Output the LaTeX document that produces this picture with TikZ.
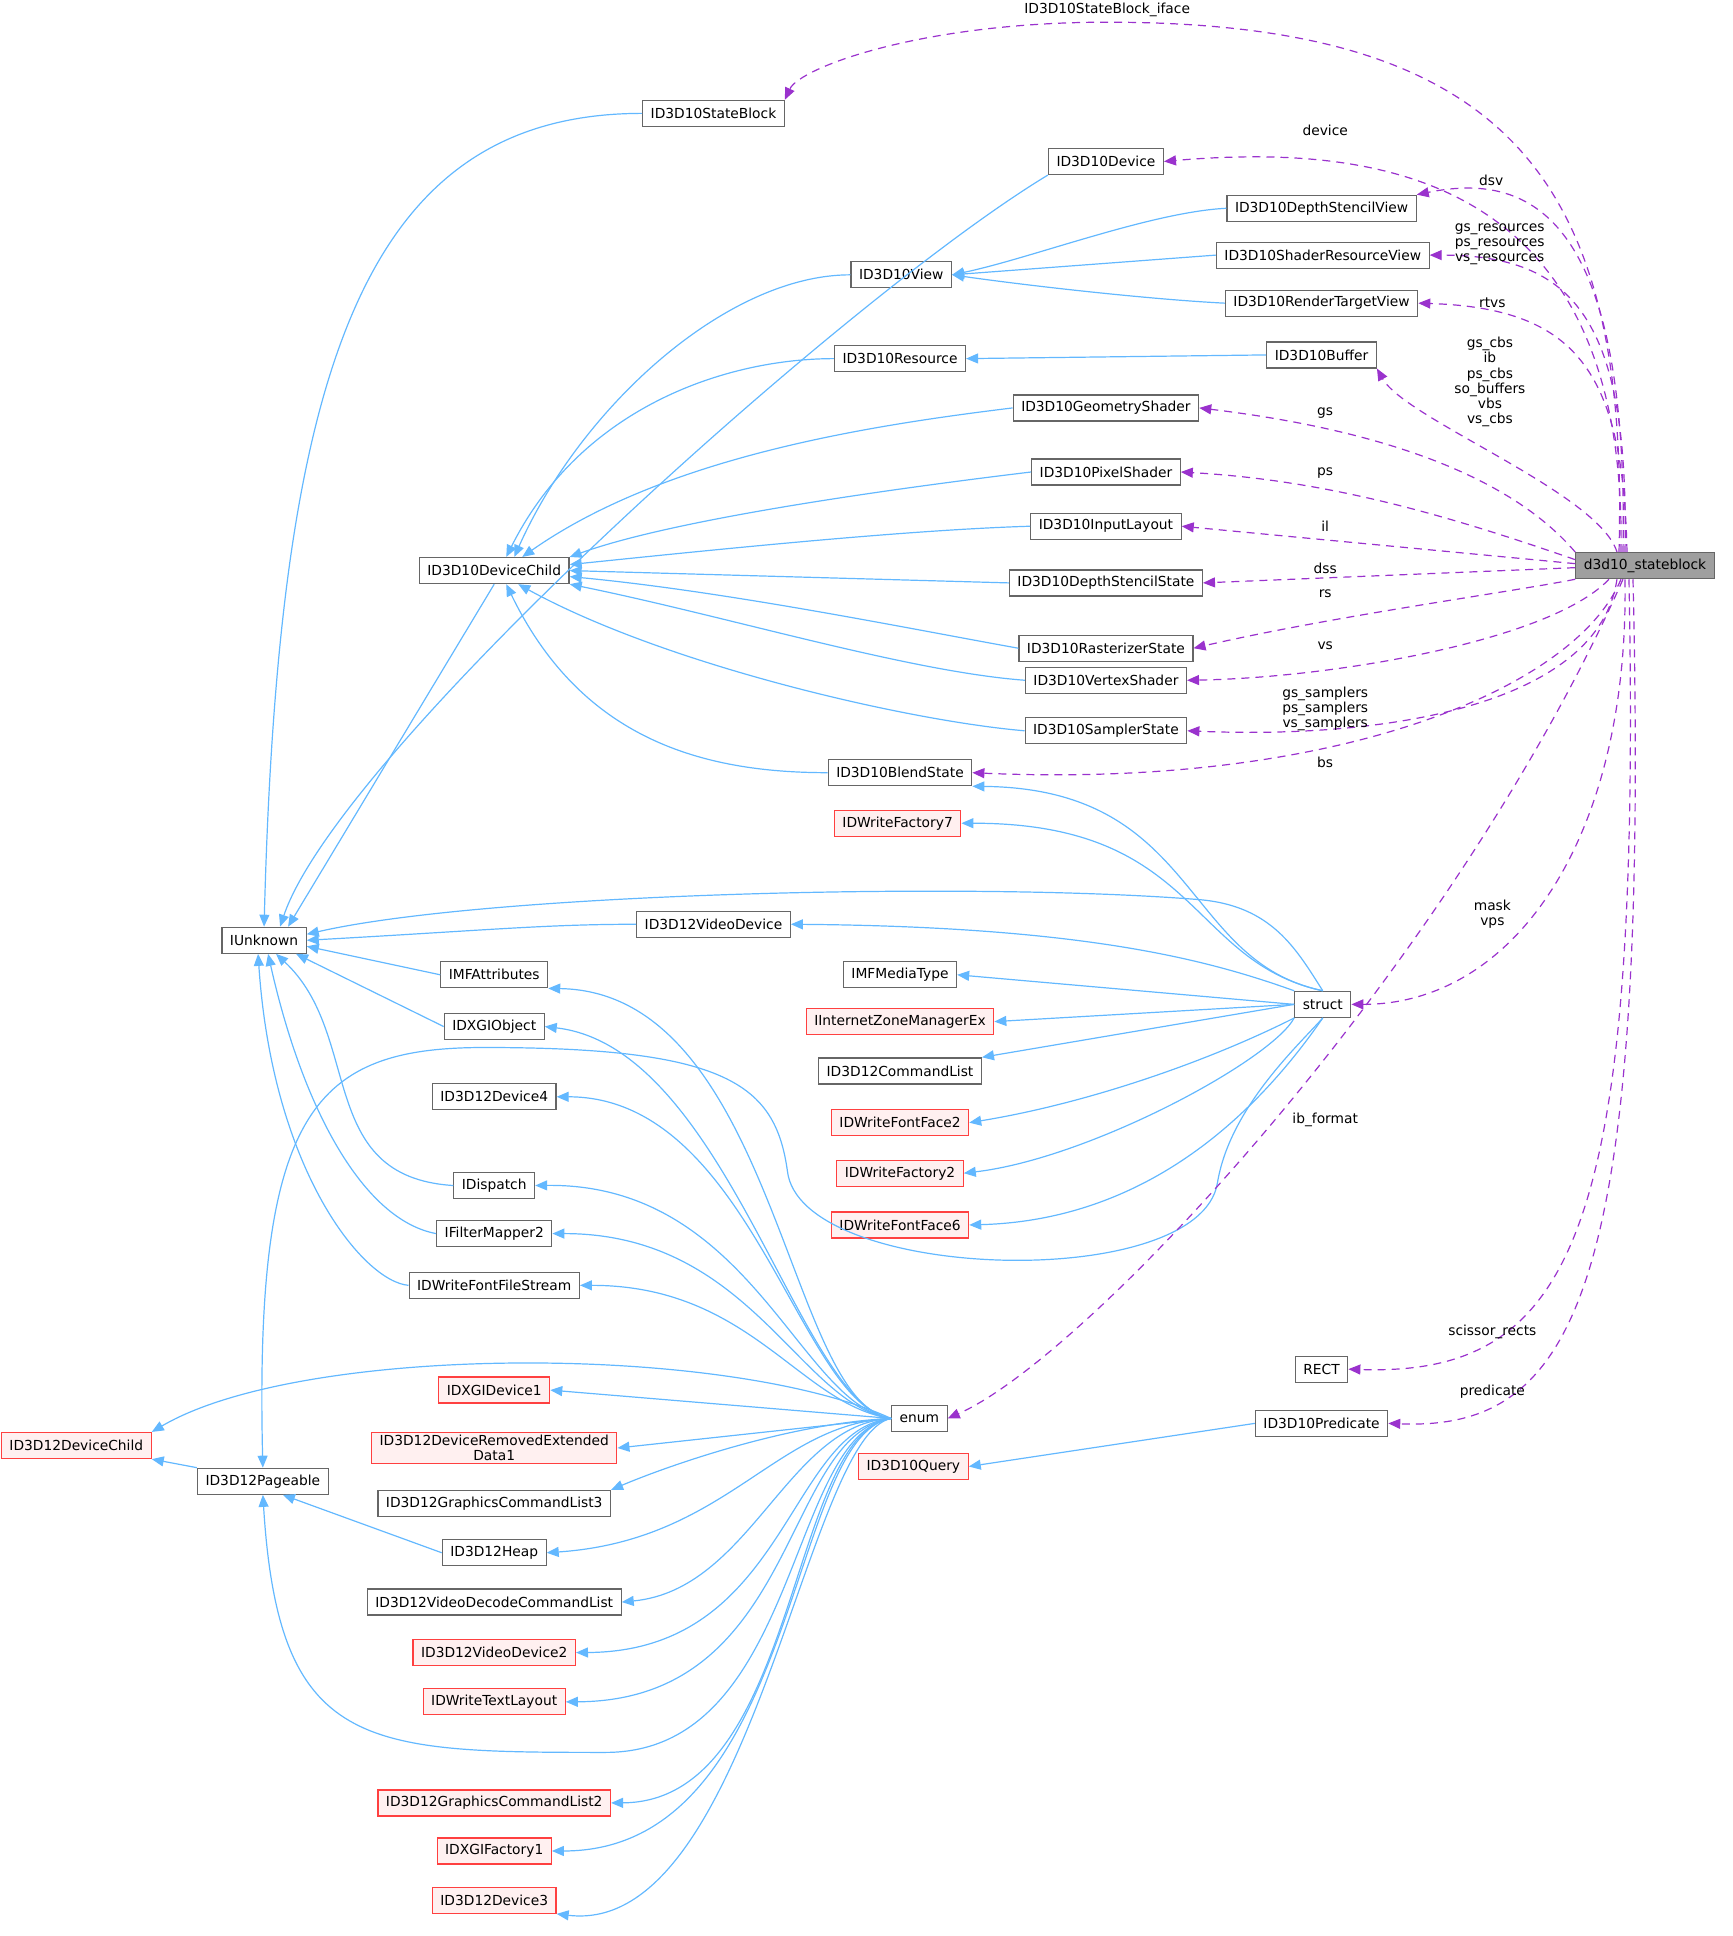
\documentclass[tikz,border=0pt]{standalone}
\usepackage{fontspec}
\setmainfont{DejaVu Sans}
\usetikzlibrary{arrows.meta}
\definecolor{eb}{HTML}{63B8FF}
\definecolor{ep}{HTML}{9A32CD}
\definecolor{bd}{HTML}{666666}
\definecolor{rf}{HTML}{FFF0F0}
\definecolor{rd}{HTML}{FF4040}
\begin{document}
\begin{tikzpicture}[x=0.6055pt,y=-0.616pt,
  n/.style={draw=bd,fill=white,line width=0.6pt,minimum height=13pt,inner xsep=4pt,inner ysep=1pt,font=\fontsize{6.9pt}{7.8pt}\selectfont,align=center},
  r/.style={n,draw=rd,fill=rf},
  be/.style={draw=eb,line width=0.6pt,{Triangle[length=6pt,width=5pt]}-},
  pe/.style={draw=ep,line width=0.6pt,dash pattern=on 4pt off 3pt,-{Triangle[length=6pt,width=5pt]}},
  lb/.style={font=\fontsize{6.9pt}{7.6pt}\selectfont,align=center,inner sep=0pt}]
\useasboundingbox (0,0) rectangle (1430,1571);
% nodes
\node[n,fill=gray!75] (sb) at (1358,459) {d3d10\_stateblock};
\node[n] (stb) at (589,92) {ID3D10StateBlock};
\node[n] (dev) at (913,131) {ID3D10Device};
\node[n] (dsv) at (1091,169) {ID3D10DepthStencilView};
\node[n] (srv) at (1092,207) {ID3D10ShaderResourceView};
\node[n] (view) at (744,223) {ID3D10View};
\node[n] (rtv) at (1091,246) {ID3D10RenderTargetView};
\node[n] (buf) at (1091,288) {ID3D10Buffer};
\node[n] (res) at (743,291) {ID3D10Resource};
\node[n] (gs) at (913,331) {ID3D10GeometryShader};
\node[n] (ps) at (913,383) {ID3D10PixelShader};
\node[n] (il) at (913,427) {ID3D10InputLayout};
\node[n] (dc) at (408,463) {ID3D10DeviceChild};
\node[n] (dss) at (913,473) {ID3D10DepthStencilState};
\node[n] (rs) at (913,526) {ID3D10RasterizerState};
\node[n] (vs) at (913,552) {ID3D10VertexShader};
\node[n] (ss) at (913,593) {ID3D10SamplerState};
\node[n] (bs) at (743,627) {ID3D10BlendState};
\node[r] (wf7) at (741,668) {IDWriteFactory7};
\node[n] (iu) at (218,763) {IUnknown};
\node[n] (vd) at (589,750) {ID3D12VideoDevice};
\node[n] (mfa) at (408,791) {IMFAttributes};
\node[n] (mft) at (743,791) {IMFMediaType};
\node[n] (st) at (1092,815) {struct};
\node[r] (izm) at (743,829) {IInternetZoneManagerEx};
\node[n] (dxo) at (408,833) {IDXGIObject};
\node[n] (cl) at (743,869) {ID3D12CommandList};
\node[n] (d4) at (408,890) {ID3D12Device4};
\node[r] (ff2) at (743,911) {IDWriteFontFace2};
\node[n] (disp) at (408,962) {IDispatch};
\node[r] (wf2) at (743,952) {IDWriteFactory2};
\node[n] (fm2) at (408,1001) {IFilterMapper2};
\node[r] (ff6) at (743,994) {IDWriteFontFace6};
\node[n] (ffs) at (408,1043) {IDWriteFontFileStream};
\node[n] (rect) at (1091,1111) {RECT};
\node[r] (dd1) at (408,1128) {IDXGIDevice1};
\node[n] (en) at (759,1151) {enum};
\node[n] (pred) at (1091,1155) {ID3D10Predicate};
\node[r] (dch) at (63,1173) {ID3D12DeviceChild};
\node[r] (dred) at (408,1175) {ID3D12DeviceRemovedExtended\\Data1};
\node[r] (q) at (754,1190) {ID3D10Query};
\node[n] (pg) at (217,1202) {ID3D12Pageable};
\node[n] (gcl3) at (408,1220) {ID3D12GraphicsCommandList3};
\node[n] (heap) at (408,1260) {ID3D12Heap};
\node[n] (vdcl) at (408,1300) {ID3D12VideoDecodeCommandList};
\node[r] (vd2) at (408,1341) {ID3D12VideoDevice2};
\node[r] (tl) at (408,1381) {IDWriteTextLayout};
\node[r] (gcl2) at (408,1463) {ID3D12GraphicsCommandList2};
\node[r] (xf1) at (408,1502) {IDXGIFactory1};
\node[r] (d3) at (408,1542) {ID3D12Device3};
% IUnknown edges
\draw[be] (iu.north) .. controls (230,300) and (300,92) .. (stb.west);
\draw[be] ([xshift=8pt]iu.north) .. controls (280,610) and (700,240) .. (dev.south west);
\draw[be] ([xshift=12pt]iu.north) -- (dc.south);
\draw[be] (iu.east) .. controls (400,755) and (450,750) .. (vd.west);
\draw[be] ([yshift=-3pt]iu.east) -- (mfa.west);
\draw[be] ([xshift=16pt]iu.south) -- (dxo.west);
\draw[be] ([xshift=6pt]iu.south) .. controls (300,840) and (260,955) .. (disp.west);
\draw[be] ([xshift=2pt]iu.south) .. controls (250,900) and (300,990) .. (fm2.west);
\draw[be] ([xshift=-3pt]iu.south) .. controls (225,950) and (300,1040) .. (ffs.west);
\draw[be] ([yshift=3pt]iu.east) .. controls (400,725) and (800,715) .. (990,730) .. controls (1050,735) and (1070,770) .. (st.north);
% DeviceChild edges
\draw[be] ([xshift=10pt]dc.north) .. controls (480,330) and (600,223) .. (view.west);
\draw[be] ([xshift=6pt]dc.north) .. controls (480,330) and (600,291) .. (res.west);
\draw[be] ([xshift=14pt]dc.north) .. controls (550,370) and (720,345) .. (gs.west);
\draw[be] (dc.north east) .. controls (560,420) and (750,395) .. (ps.west);
\draw[be] ([yshift=3pt]dc.east) .. controls (600,445) and (750,430) .. (il.west);
\draw[be] (dc.east) -- (dss.west);
\draw[be] ([yshift=-3pt]dc.east) .. controls (600,480) and (750,510) .. (rs.west);
\draw[be] (dc.south east) .. controls (600,500) and (750,545) .. (vs.west);
\draw[be] ([xshift=12pt]dc.south) .. controls (550,540) and (750,585) .. (ss.west);
\draw[be] ([xshift=6pt]dc.south) .. controls (480,600) and (580,627) .. (bs.west);
\draw[be] (view.east) .. controls (850,210) and (950,172) .. (dsv.west);
\draw[be] (view.east) -- (srv.west);
\draw[be] (view.east) .. controls (850,232) and (950,243) .. (rtv.west);
\draw[be] (res.east) -- (buf.west);
% struct edges
\draw[be] (bs.south east) .. controls (990,640) and (975,780) .. (st.north);
\draw[be] (wf7.east) .. controls (990,668) and (980,780) .. (st.north);
\draw[be] (vd.east) .. controls (900,752) and (1000,780) .. (st.north west);
\draw[be] (mft.east) -- (st.west);
\draw[be] (izm.east) -- (st.west);
\draw[be] (cl.north east) -- (st.west);
\draw[be] (ff2.east) .. controls (900,895) and (1000,860) .. (st.south west);
\draw[be] (wf2.east) .. controls (900,940) and (1050,860) .. (st.south west);
\draw[be] (ff6.east) .. controls (950,990) and (1040,900) .. (st.south);
\draw[be] (pg.north) .. controls (210,900) and (260,850) .. (400,850) .. controls (600,850) and (640,880) .. (650,950) .. controls (660,1040) and (990,1050) .. (1005,960) .. controls (1015,900) and (1070,850) .. (st.south);
% enum edges
\draw[be] (mfa.south east) .. controls (640,805) and (650,1140) .. (en.west);
\draw[be] (dxo.east) .. controls (600,850) and (660,1140) .. (en.west);
\draw[be] (d4.east) .. controls (620,890) and (660,1140) .. (en.west);
\draw[be] (disp.east) .. controls (620,960) and (660,1140) .. (en.west);
\draw[be] (fm2.east) .. controls (620,1001) and (660,1140) .. (en.west);
\draw[be] (ffs.east) .. controls (620,1043) and (660,1140) .. (en.west);
\draw[be] (dch.north east) .. controls (250,1090) and (600,1090) .. (en.west);
\draw[be] (dd1.east) -- (en.west);
\draw[be] (dred.east) -- (en.west);
\draw[be] (gcl3.north east) .. controls (550,1190) and (650,1155) .. (en.west);
\draw[be] (heap.east) .. controls (600,1250) and (640,1155) .. (en.west);
\draw[be] (vdcl.east) .. controls (620,1290) and (650,1155) .. (en.west);
\draw[be] (vd2.east) .. controls (650,1340) and (650,1160) .. (en.west);
\draw[be] (tl.east) .. controls (660,1380) and (645,1165) .. (en.west);
\draw[be] (pg.south) .. controls (230,1420) and (300,1422) .. (500,1422) .. controls (660,1422) and (650,1165) .. (en.west);
\draw[be] (gcl2.east) .. controls (660,1462) and (650,1165) .. (en.west);
\draw[be] (xf1.east) .. controls (660,1502) and (650,1165) .. (en.west);
\draw[be] (d3.south east) .. controls (620,1572) and (665,1165) .. (en.west);
\draw[be] (dch.south east) -- (pg.north west);
\draw[be] ([xshift=10pt]pg.south) -- (heap.west);
\draw[be] (q.east) -- (pred.west);
% purple edges
\draw[pe] ([xshift=-13pt]sb.north) .. controls (1345,150) and (1250,18) .. (914,18) .. controls (760,18) and (660,55) .. (stb.north east);
\draw[pe] ([xshift=-12pt]sb.north) .. controls (1343,150) and (1150,115) .. (dev.east);
\draw[pe] ([xshift=-11pt]sb.north) .. controls (1345,170) and (1260,140) .. (dsv.north east);
\draw[pe] ([xshift=-10pt]sb.north) .. controls (1345,260) and (1300,207) .. (srv.east);
\draw[pe] ([xshift=-9pt]sb.north) .. controls (1340,300) and (1300,250) .. (rtv.east);
\draw[pe] ([xshift=-14pt]sb.north) .. controls (1320,400) and (1160,340) .. (buf.south east);
\draw[pe] (sb.north west) .. controls (1250,390) and (1150,350) .. (gs.east);
\draw[pe] ([yshift=3pt]sb.west) .. controls (1200,420) and (1100,390) .. (ps.east);
\draw[pe] ([yshift=1pt]sb.west) -- (il.east);
\draw[pe] ([yshift=-1pt]sb.west) -- (dss.east);
\draw[pe] (sb.south west) .. controls (1250,480) and (1100,500) .. (rs.east);
\draw[pe] ([xshift=-18pt]sb.south) .. controls (1280,520) and (1100,550) .. (vs.east);
\draw[pe] ([xshift=-14pt]sb.south) .. controls (1320,570) and (1150,600) .. (ss.east);
\draw[pe] ([xshift=-12pt]sb.south) .. controls (1300,560) and (1100,640) .. (bs.east);
\draw[pe] ([xshift=-10pt]sb.south) .. controls (1345,680) and (1250,815) .. (st.east);
\draw[pe] ([xshift=-11pt]sb.south) .. controls (1200,780) and (900,1100) .. (en.east);
\draw[pe] ([xshift=-8pt]sb.south) .. controls (1355,1000) and (1300,1117) .. (rect.east);
\draw[pe] ([xshift=-6pt]sb.south) .. controls (1362,1050) and (1300,1161) .. (pred.east);
% labels
\node[lb,fill=white] at (914,8) {ID3D10StateBlock\_iface};
\node[lb] at (1094,106) {device};
\node[lb] at (1231,146) {dsv};
\node[lb] at (1238,198) {gs\_resources\\ps\_resources\\vs\_resources};
\node[lb] at (1232,246) {rtvs};
\node[lb] at (1230,310) {gs\_cbs\\ib\\ps\_cbs\\so\_buffers\\vbs\\vs\_cbs};
\node[lb] at (1094,335) {gs};
\node[lb] at (1094,384) {ps};
\node[lb] at (1094,427) {il};
\node[lb] at (1094,461) {dss};
\node[lb] at (1094,482) {rs};
\node[lb] at (1094,524) {vs};
\node[lb] at (1094,575) {gs\_samplers\\ps\_samplers\\vs\_samplers};
\node[lb] at (1094,619) {bs};
\node[lb] at (1232,742) {mask\\vps};
\node[lb] at (1094,909) {ib\_format};
\node[lb] at (1232,1081) {scissor\_rects};
\node[lb] at (1232,1129) {predicate};
\end{tikzpicture}
\end{document}
